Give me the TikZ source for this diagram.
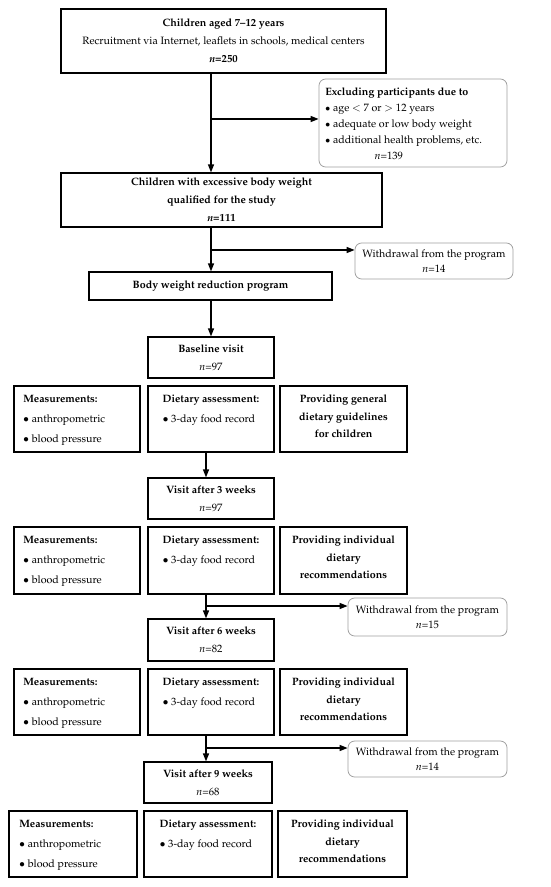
\documentclass[tikz,border=0pt]{standalone}
\usepackage[T1]{fontenc}
\usepackage{mathpazo}
\usetikzlibrary{arrows.meta}
\begin{document}
\begin{tikzpicture}[x=0.75pt,y=0.75pt,yscale=-1,xscale=1,
    box/.style={draw, line width=0.9pt, inner sep=0pt, align=center, font=\fontsize{8}{13.5}\selectfont},
    wbox/.style={draw=gray!75, rounded corners=5pt, line width=0.6pt, inner sep=0pt, align=center, font=\fontsize{8}{11.5}\selectfont},
    txt/.style={inner sep=0pt, font=\fontsize{8}{13.5}\selectfont},
    arr/.style={line width=1pt, -{Triangle[length=6pt,width=4.5pt]}}]
        \useasboundingbox (0,0) rectangle (550,887);
        % Text Node
        \node (b1) [box, minimum width=243.75pt, minimum height=48pt] at (223.5,41) {\textbf{Children aged 7--12 years}\\Recruitment via Internet, leaflets in schools, medical centers\\\textbf{\textit{n}=250}};
        % Text Node
        \node (excl) [wbox, minimum width=141pt, minimum height=66pt] at (413,123) {};
        \node (excltxt) [txt, anchor=north west, align=left, font=\fontsize{8}{12}\selectfont] at (325,88) {\textbf{Excluding participants due to}\\{\scriptsize$\bullet$} age $<$ 7 or $>$ 12 years\\{\scriptsize$\bullet$} adequate or low body weight\\{\scriptsize$\bullet$} additional health problems, etc.\\\hspace*{37pt}\textit{n}=139};
        % Text Node
        \node (b2) [box, minimum width=240.75pt, minimum height=40.5pt] at (221.5,200) {\textbf{Children with excessive body weight}\\\textbf{qualified for the study}\\\textbf{\textit{n}=111}};
        % Text Node
        \node (wd1) [wbox, minimum width=118.5pt, minimum height=27pt] at (434,261) {Withdrawal from the program\\\textit{n}=14};
        % Text Node
        \node (prog) [box, minimum width=182.25pt, minimum height=21pt] at (210.5,286) {\textbf{Body weight reduction program}};
        % Text Node
        \node (base) [box, minimum width=94.5pt, minimum height=30.75pt] at (211,357.5) {\textbf{Baseline visit}\\\textit{n}=97};
        % Row 1
        \node (mA1) [box, minimum width=94.5pt, minimum height=49.5pt] at (77,419) {};
        \node (mA1txt) [txt, anchor=north west, align=left] at (23,395) {\textbf{Measurements:}\\[1.5pt]$\bullet$ anthropometric\\[1.5pt]$\bullet$ blood pressure};
        \node (dB1) [box, minimum width=94.5pt, minimum height=49.5pt] at (211,419) {};
        \node (dB1txt) [txt, anchor=north, align=left] at (211,395) {\textbf{Dietary assessment:}\\[1.5pt]$\bullet$ 3-day food record};
        \node (pC1) [box, minimum width=95.25pt, minimum height=49.5pt] at (343.5,419) {};
        \node (pC1txt) [txt, anchor=north, align=center, font=\fontsize{8}{13}\selectfont\bfseries] at (343.5,395) {Providing general\\dietary guidelines\\for children};
        % Text Node
        \node (v3) [box, minimum width=94.5pt, minimum height=30.75pt] at (211,498.5) {\textbf{Visit after 3 weeks}\\\textit{n}=97};
        % Row 2
        \node (mA2) [box, minimum width=94.5pt, minimum height=50.25pt] at (77,560.5) {};
        \node (mA2txt) [txt, anchor=north west, align=left] at (23,536) {\textbf{Measurements:}\\[1.5pt]$\bullet$ anthropometric\\[1.5pt]$\bullet$ blood pressure};
        \node (dB2) [box, minimum width=94.5pt, minimum height=50.25pt] at (211,560.5) {};
        \node (dB2txt) [txt, anchor=north, align=left] at (211,536) {\textbf{Dietary assessment:}\\[1.5pt]$\bullet$ 3-day food record};
        \node (pC2) [box, minimum width=95.25pt, minimum height=50.25pt] at (343.5,560.5) {};
        \node (pC2txt) [txt, anchor=north, align=center, font=\fontsize{8}{13}\selectfont\bfseries] at (343.5,536) {Providing individual\\dietary\\recommendations};
        % Text Node
        \node (wd2) [wbox, minimum width=119.25pt, minimum height=28.5pt] at (427.5,617) {Withdrawal from the program\\\textit{n}=15};
        % Text Node
        \node (v6) [box, minimum width=94.5pt, minimum height=31.5pt] at (211,640) {\textbf{Visit after 6 weeks}\\\textit{n}=82};
        % Row 3
        \node (mA3) [box, minimum width=94.5pt, minimum height=49.5pt] at (77,702) {};
        \node (mA3txt) [txt, anchor=north west, align=left] at (23,678) {\textbf{Measurements:}\\[1.5pt]$\bullet$ anthropometric\\[1.5pt]$\bullet$ blood pressure};
        \node (dB3) [box, minimum width=94.5pt, minimum height=49.5pt] at (211,702) {};
        \node (dB3txt) [txt, anchor=north, align=left] at (211,678) {\textbf{Dietary assessment:}\\[1.5pt]$\bullet$ 3-day food record};
        \node (pC3) [box, minimum width=95.25pt, minimum height=49.5pt] at (343.5,702) {};
        \node (pC3txt) [txt, anchor=north, align=center, font=\fontsize{8}{13}\selectfont\bfseries] at (343.5,678) {Providing individual\\dietary\\recommendations};
        % Text Node
        \node (wd3) [wbox, minimum width=119.25pt, minimum height=27pt] at (427.5,759) {Withdrawal from the program\\\textit{n}=14};
        % Text Node
        \node (v9) [box, minimum width=96pt, minimum height=30.75pt] at (208,782.5) {\textbf{Visit after 9 weeks}\\\textit{n}=68};
        % Row 4
        \node (mA4) [box, minimum width=96pt, minimum height=49.5pt] at (73,844) {};
        \node (mA4txt) [txt, anchor=north west, align=left] at (19,820) {\textbf{Measurements:}\\[1.5pt]$\bullet$ anthropometric\\[1.5pt]$\bullet$ blood pressure};
        \node (dB4) [box, minimum width=96pt, minimum height=49.5pt] at (208,844) {};
        \node (dB4txt) [txt, anchor=north, align=left] at (208,820) {\textbf{Dietary assessment:}\\[1.5pt]$\bullet$ 3-day food record};
        \node (pC4) [box, minimum width=96.75pt, minimum height=49.5pt] at (342.5,844) {};
        \node (pC4txt) [txt, anchor=north, align=center, font=\fontsize{8}{13}\selectfont\bfseries] at (342.5,820) {Providing individual\\dietary\\recommendations};
        % Junctions
        \coordinate (j0) at (211,119);
        \coordinate (j1) at (211,250);
        \coordinate (j2) at (206,606);
        \coordinate (j3) at (206,748);
        % Connection
        \draw [arr] (b1.south -| base.north) -- (b2.north -| base.north);
        % Connection
        \draw [arr] (j0) -- (j0 -| excl.west);
        % Connection
        \draw [arr] (b2.south -| base.north) -- (prog.north -| base.north);
        % Connection
        \draw [arr] (j1) -- (j1 -| wd1.west);
        % Connection
        \draw [arr] (prog.south -| base.north) -- (base.north);
        % Connection
        \draw [arr] (dB1.south -| j2) -- (v3.north -| j2);
        % Connection
        \draw [arr] (dB2.south -| j2) -- (v6.north -| j2);
        % Connection
        \draw [arr] (j2) -- (j2 -| wd2.west);
        % Connection
        \draw [arr] (dB3.south -| j3) -- (v9.north -| j3);
        % Connection
        \draw [arr] (j3) -- (j3 -| wd3.west);
    \end{tikzpicture}
\end{document}
